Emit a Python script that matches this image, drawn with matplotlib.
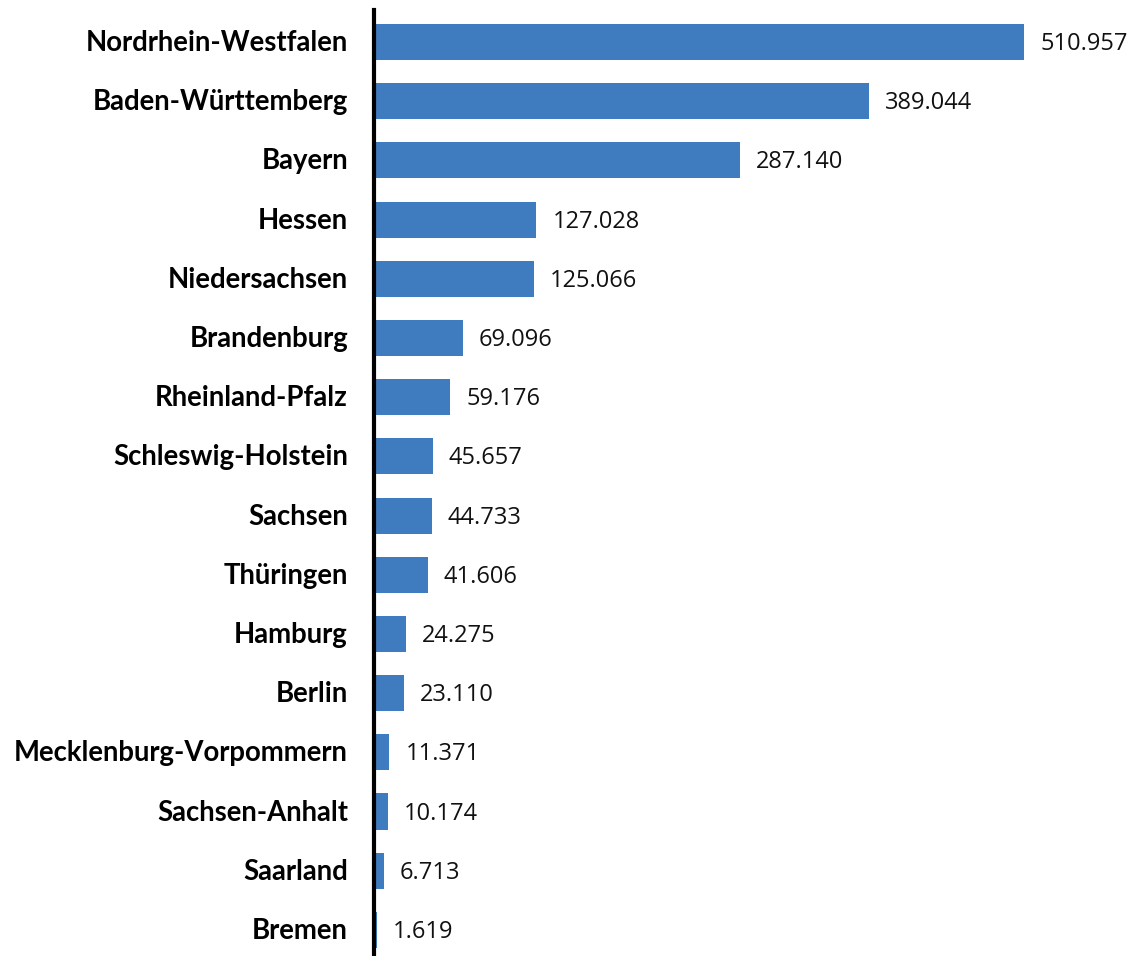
import matplotlib
matplotlib.use("Agg")
import matplotlib.pyplot as plt

states = ["Nordrhein-Westfalen", "Baden-Württemberg", "Bayern", "Hessen",
          "Niedersachsen", "Brandenburg", "Rheinland-Pfalz", "Schleswig-Holstein",
          "Sachsen", "Thüringen", "Hamburg", "Berlin",
          "Mecklenburg-Vorpommern", "Sachsen-Anhalt", "Saarland", "Bremen"]
values = [510957, 389044, 287140, 127028, 125066, 69096, 59176, 45657,
          44733, 41606, 24275, 23110, 11371, 10174, 6713, 1619]

def fmt(v):
    return f"{v:,}".replace(",", ".")

W, H = 1131, 956
fig = plt.figure(figsize=(W / 100, H / 100), dpi=100)
ax_left = 375 / W
ax = fig.add_axes([ax_left, 0, 1 - ax_left, 1 - 10 / H])

y = list(range(len(states)))
ax.barh(y, values, height=0.61, color="#3F7CBF", zorder=2)
scale = 649 / 510957  # px per unit
ax.set_xlim(0, (W - 375) / scale)
ax.set_ylim(15.44, -0.54)

for yi, v in zip(y, values):
    ax.annotate(fmt(v), (v, yi), xytext=(16, -2), textcoords="offset pixels",
                va="center", ha="left", fontsize=17, family=["Open Sans", "DejaVu Sans"],
                color="#111111")

for yi, name in zip(y, states):
    ax.annotate(name, (0, yi), xytext=(-27, -1), textcoords="offset pixels",
                va="center", ha="right", fontsize=19.8, fontweight="bold",
                family=["Lato", "DejaVu Sans"], color="black", annotation_clip=False)

ax.set_yticks([])
ax.set_xticks([])
for s in ["top", "right", "bottom"]:
    ax.spines[s].set_visible(False)
ax.spines["left"].set_linewidth(3)
ax.spines["left"].set_color("black")
ax.spines["left"].set_position(("outward", 1))

fig.savefig("out.png", dpi=100)
